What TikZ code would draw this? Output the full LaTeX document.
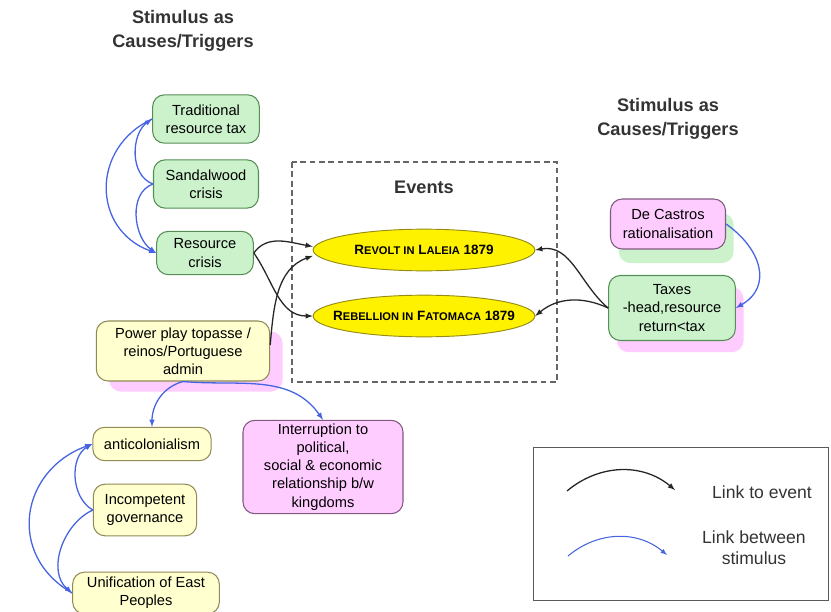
\documentclass[tikz,border=0pt]{standalone}
\usepackage{fontspec}
\setmainfont{Liberation Sans}
\usepackage{tikz}
\usetikzlibrary{arrows,shapes.geometric,shadows}

\definecolor{stimgreen}{RGB}{204,242,204}
\definecolor{stimyellow}{RGB}{255,255,208}
\definecolor{stimpink}{RGB}{255,204,255}
\definecolor{linkblue}{RGB}{70,100,225}
\definecolor{eventborder}{RGB}{150,140,20}

% fake small caps: first letter big, rest small
\newcommand{\evsc}[2]{#1{\fontsize{9.5}{10}\selectfont #2}}

\begin{document}
\begin{tikzpicture}[x=0.03cm,y=-0.03cm,>=latex,
  box/.style={draw=gray!60!black,rounded corners=10pt,align=center,
    font=\fontsize{12.5}{15.5}\selectfont,line width=0.9pt,inner sep=1pt},
  greenbox/.style={box,fill=stimgreen,draw=green!25!gray!90!black},
  yellowbox/.style={box,fill=stimyellow,draw=olive!40!gray},
  pinkbox/.style={box,fill=stimpink,draw=violet!30!gray},
  event/.style={ellipse,draw=eventborder,fill=yellow,line width=0.8pt,
    minimum width=6.65cm,minimum height=1.25cm,inner sep=0pt,
    font=\bfseries\fontsize{11.5}{13}\selectfont},
  title/.style={align=center,font=\bfseries\fontsize{15.5}{21}\selectfont,text=black!80},
  tolink/.style={->,line width=1.1pt,black!85},
  stimlink/.style={->,line width=1.1pt,linkblue}]
\useasboundingbox (0,0) rectangle (831,612);

% titles
\node[title] (titleleft) at (183,31) {Stimulus as\\Causes/Triggers};
\node[title] (titleright) at (668,119) {Stimulus as\\Causes/Triggers};

% events
\draw[dash pattern=on 5pt off 3pt,line width=1pt,gray!80!black] (292,162) rectangle (557,382);
\node[title] (events) at (424,187) {Events};
\node[event] (revolt) at (424,250) {\makebox[0pt]{\evsc{R}{EVOLT IN} \evsc{L}{ALEIA} 1879}};
\node[event] (rebel) at (424,316) {\makebox[0pt]{\evsc{R}{EBELLION IN} \evsc{F}{ATOMACA} 1879}};

% left stimuli
\node[greenbox,minimum width=3.2cm,minimum height=1.45cm] (trad) at (206,119) {Traditional\\resource tax};
\node[greenbox,minimum width=3.15cm,minimum height=1.45cm] (sandal) at (206,184) {Sandalwood\\crisis};
\node[greenbox,minimum width=2.9cm,minimum height=1.3cm] (rescrisis) at (205,253) {Resource\\crisis};
\node[yellowbox,minimum width=5.2cm,minimum height=1.8cm,
  general shadow={fill=stimpink,rounded corners=10pt,shadow xshift=11pt,shadow yshift=-9pt}]
  (power) at (183,351) {Power play topasse /\\reinos/Portuguese\\admin};
\node[yellowbox,minimum width=3.55cm,minimum height=1.0cm] (anti) at (152,444) {anticolonialism};
\node[yellowbox,minimum width=3.1cm,minimum height=1.55cm] (incomp) at (145,510) {Incompetent\\governance};
\node[yellowbox,minimum width=4.4cm,minimum height=1.25cm] (unif) at (146,593) {Unification of East\\Peoples};
\node[pinkbox,minimum width=4.8cm,minimum height=2.8cm] (interr) at (323,467) {Interruption to\\political,\\social \& economic\\relationship b/w\\kingdoms};

% right stimuli
\node[pinkbox,minimum width=3.45cm,minimum height=1.5cm,
  general shadow={fill=stimgreen,rounded corners=10pt,shadow xshift=7pt,shadow yshift=-12pt}]
  (decastro) at (668,224) {De Castros\\rationalisation};
\node[greenbox,minimum width=3.8cm,minimum height=1.95cm,
  general shadow={fill=stimpink,rounded corners=10pt,shadow xshift=7pt,shadow yshift=-10pt}]
  (taxes) at (672,308) {Taxes\\-head,resource\\return<tax};

% links between stimulus
\draw[stimlink] (sandal.west) to[out=160,in=215] (trad.west);
\draw[stimlink] (sandal.west) to[out=200,in=145] (rescrisis.west);
\draw[stimlink] (trad.west) to[out=205,in=160,looseness=1.3] (rescrisis.west);
\draw[stimlink] (decastro.east) to[out=-35,in=30,looseness=1.3] (taxes.east);
\draw[stimlink] (power.south) to[out=195,in=90] (anti.north);
\draw[stimlink] (power.south) to[out=-5,in=125] (interr.north);
\draw[stimlink] (incomp.west) to[out=150,in=210] (anti.west);
\draw[stimlink] (incomp.west) to[out=205,in=140] (unif.west);
\draw[stimlink] (unif.west) to[out=150,in=200,looseness=1.3] (anti.west);

% links to event
\draw[tolink] (rescrisis.east) to[out=55,in=170] ([yshift=3pt]revolt.west);
\draw[tolink] (rescrisis.east) to[out=-55,in=180] (rebel.west);
\draw[tolink] ([yshift=5pt]power.east) to[out=85,in=200] ([yshift=-5pt]revolt.west);
\draw[tolink] (taxes.west) to[out=140,in=10] (revolt.east);
\draw[tolink] (taxes.west) to[out=155,in=40] (rebel.east);

% legend
\draw[line width=0.8pt,gray!70!black] (533,447) rectangle (828,600);
\coordinate (evstart) at (567,491);
\coordinate (evend) at (675,490);
\coordinate (ststart) at (568,556);
\coordinate (stend) at (667,555);
\draw[tolink] (evstart) to[out=40,in=140] (evend);
\draw[stimlink,line width=0.9pt] (ststart) to[out=40,in=140] (stend);
\node[font=\fontsize{15}{18}\selectfont,text=black!80] (evlabel) at (762,492) {Link to event};
\node[align=center,font=\fontsize{15}{18}\selectfont,text=black!80] (stlabel) at (754,548) {Link between\\stimulus};
\end{tikzpicture}
\end{document}
